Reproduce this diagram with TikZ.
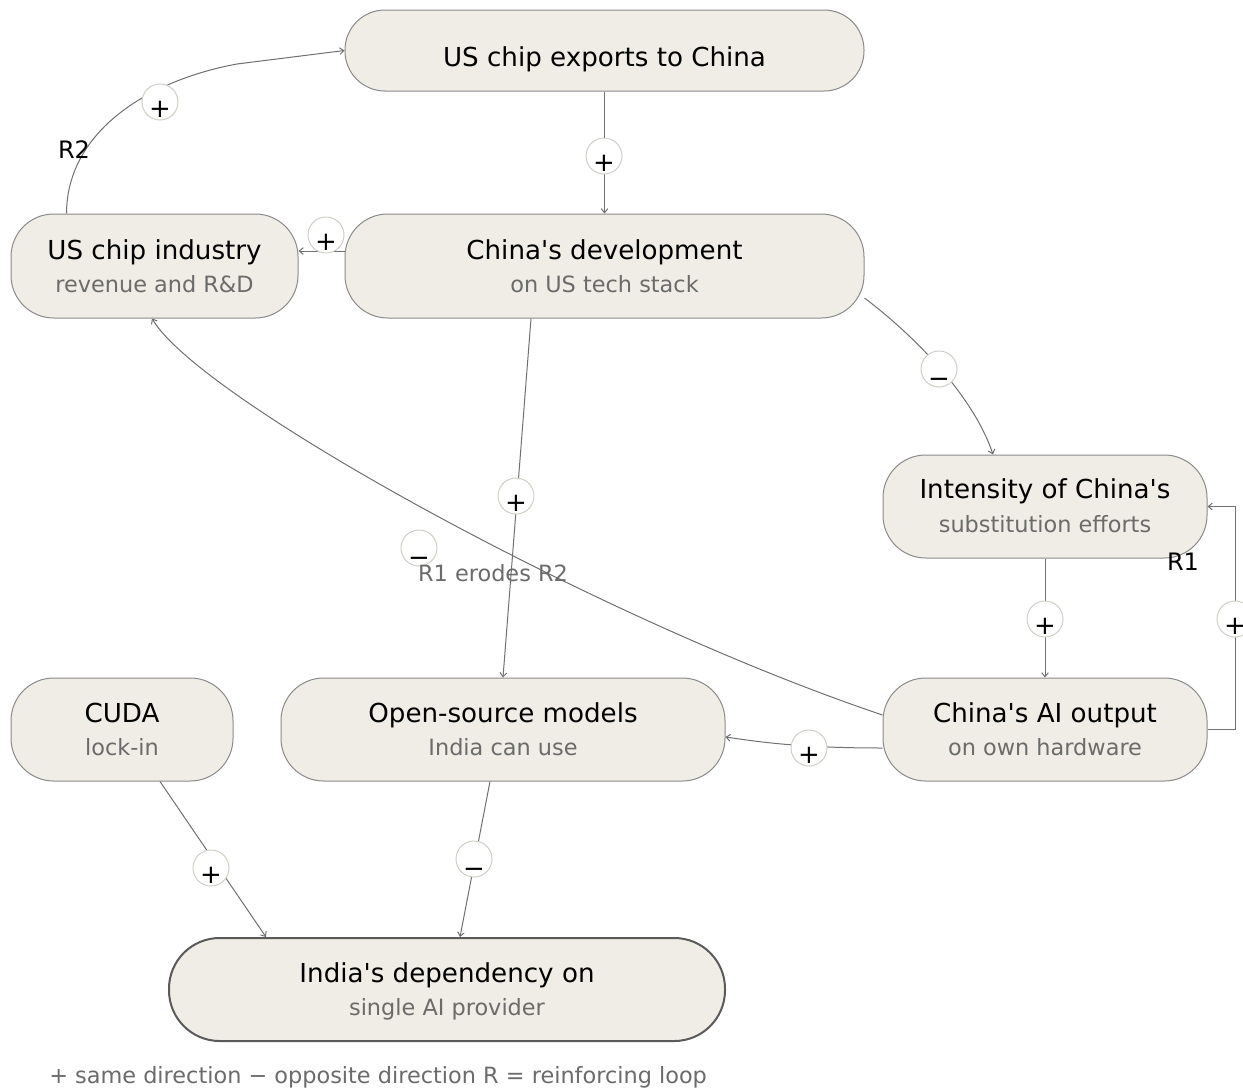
\documentclass[tikz,border=0pt]{standalone}
\usepackage{fontspec}
\setmainfont{DejaVu Sans}[Ligatures=TeXOff]
\usetikzlibrary{calc,arrows.meta}
\definecolor{boxfill}{HTML}{F0EDE6}
\definecolor{boxdraw}{HTML}{8A8A8A}
\definecolor{indiadraw}{HTML}{5A5A5A}
\definecolor{edgecol}{HTML}{707070}
\definecolor{circcol}{HTML}{D2CEC6}
\definecolor{subgray}{HTML}{6B6B6B}
\begin{document}
\begin{tikzpicture}[x=0.75pt,y=-0.75pt,
  box/.style={draw=boxdraw, fill=boxfill, line width=0.75pt, rounded corners=32pt, inner sep=0pt, minimum height=77.25pt},
  ttl/.style={anchor=base, font=\fontsize{19.6}{23}\selectfont, text=black, inner sep=0pt},
  sub/.style={anchor=base, font=\fontsize{16.8}{20}\selectfont, text=subgray, inner sep=0pt},
  edge/.style={draw=edgecol, line width=0.75pt, -{Straight Barb[length=3pt,width=5pt]}},
  sgn/.style={circle, draw=circcol, fill=white, line width=0.75pt, minimum size=27pt, inner sep=0pt},
  sgt/.style={anchor=base, font=\fontsize{19.5}{23}\selectfont, text=black, inner sep=0pt},
  rlab/.style={anchor=base, font=\fontsize{18}{22}\selectfont, text=black, inner sep=0pt}]
\useasboundingbox (0,0) rectangle (1243,1089);

% boxes
\node[box, rounded corners=30pt, minimum width=389.25pt, minimum height=60.75pt] (exp) at (604.5,50.5) {};
\node[box, minimum width=389.25pt, minimum height=78pt] (dev) at (604.5,266) {};
\node[box, minimum width=215.25pt, minimum height=78pt] (ind) at (154.5,266) {};
\node[box, minimum width=243pt] (int) at (1045,506.5) {};
\node[box, minimum width=166.5pt] (cuda) at (122,729.5) {};
\node[box, minimum width=333pt] (oss) at (503,729.5) {};
\node[box, minimum width=243pt] (ai) at (1045,729.5) {};
\node[box, draw=indiadraw, line width=1.5pt, rounded corners=38pt, minimum width=417pt] (india) at (447,989.5) {};

% texts
\node[ttl] (expT) at (604.5,66) {US chip exports to China};
\node[ttl] (devT) at (604.5,259) {China's development};
\node[sub] (devS) at (604.5,292) {on US tech stack};
\node[ttl] (indT) at (154.5,259) {US chip industry};
\node[sub] (indS) at (154.5,292) {revenue and R\&D};
\node[ttl] (intT) at (1045,498.5) {Intensity of China's};
\node[sub] (intS) at (1045,532) {substitution efforts};
\node[ttl] (cudaT) at (122,722.5) {CUDA};
\node[sub] (cudaS) at (122,755.5) {lock-in};
\node[ttl] (ossT) at (503,722.5) {Open-source models};
\node[sub] (ossS) at (503,755.5) {India can use};
\node[ttl] (aiT) at (1045,722.5) {China's AI output};
\node[sub] (aiS) at (1045,755.5) {on own hardware};
\node[ttl] (indiaT) at (447,982.5) {India's dependency on};
\node[sub] (indiaS) at (447,1015.5) {single AI provider};

% connectors
\draw[edge] ($(ind.north west)+(56,0)$) .. controls (67,130) and (150,80) .. (237,64) -- (exp.west);
\draw[edge] (exp) -- (dev);
\draw[edge] ($(dev.west)+(0,-15)$) -- ($(ind.east)+(0,-15)$);
\draw[edge] ($(dev.east)+(0,32)$) .. controls (920,340) and (975,400) .. ($(int.north)+(-52,0)$);
\draw[edge] ($(dev.south)+(-73.5,0)$) -- (oss.north);
\draw[edge] ($(ai.west)+(0,-14.5)$) .. controls (600,620) and (200,400) .. ($(ind.south)+(-2.5,0)$);
\draw[edge] (int) -- (ai);
\draw[edge] (ai.east) -- ++(28,0) |- (int.east);
\draw[edge] ($(ai.west)+(0,18.5)$) .. controls (800,748) and (760,742) .. ($(oss.east)+(0,7.5)$);
\draw[edge] ($(cuda.south)+(38,0)$) -- ($(india.north west)+(98,0)$);
\draw[edge] ($(oss.south)+(-13,0)$) -- ($(india.north)+(13,0)$);

% sign circles
\node[sgn] (c1) at (160,102) {};
\node[sgn] (c2) at (604,156) {};
\node[sgn] (c3) at (326,235) {};
\node[sgn] (c4) at (939,369) {};
\node[sgn] (c5) at (516,496) {};
\node[sgn] (c6) at (419,548) {};
\node[sgn] (c7) at (1045,619) {};
\node[sgn] (c8) at (1235,619) {};
\node[sgn] (c9) at (809,748) {};
\node[sgn] (c10) at (211,868) {};
\node[sgn] (c11) at (474,859) {};
\node[sgt] (s1) at ($(c1)+(0,15)$) {+};
\node[sgt] (s2) at ($(c2)+(0,15)$) {+};
\node[sgt] (s3) at ($(c3)+(0,15)$) {+};
\node[sgt] (s4) at ($(c4)+(0,18)$) {−};
\node[sgt] (s5) at ($(c5)+(0,15)$) {+};
\node[sgt] (s6) at ($(c6)+(0,18)$) {−};
\node[sgt] (s7) at ($(c7)+(0,15)$) {+};
\node[sgt] (s8) at ($(c8)+(0,15)$) {+};
\node[sgt] (s9) at ($(c9)+(0,15)$) {+};
\node[sgt] (s10) at ($(c10)+(0,15)$) {+};
\node[sgt] (s11) at ($(c11)+(0,18)$) {−};

% loop labels and notes
\node[rlab] (R2) at (74,158) {R2};
\node[rlab] (R1) at (1183,570) {R1};
\node[sub] (erode) at (493,581) {R1 erodes R2};
\node[sub, anchor=base west] (legend) at (49,1083) {+ same direction − opposite direction R = reinforcing loop};
\end{tikzpicture}
\end{document}
